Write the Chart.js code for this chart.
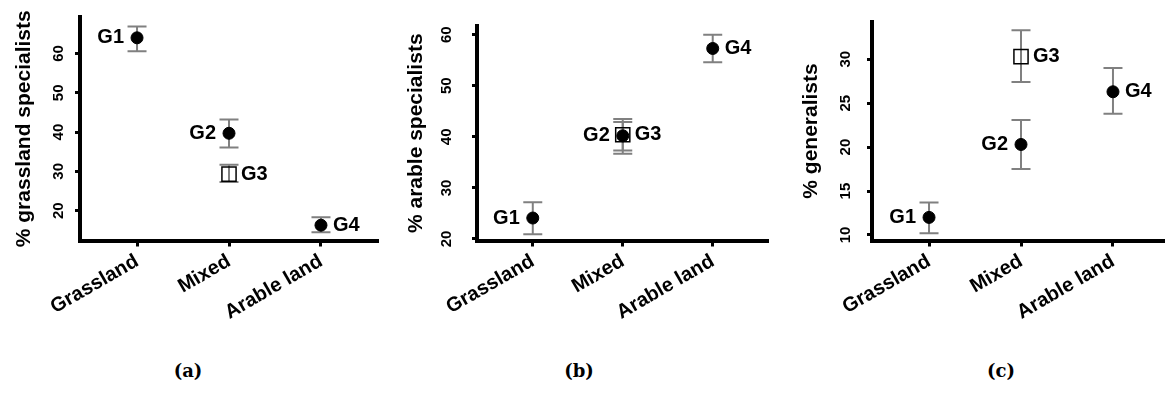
<!DOCTYPE html>
<html>
<head>
<meta charset="utf-8">
<title>Species groups by landscape</title>
<script src="https://cdn.jsdelivr.net/npm/chart.js@4.4.0/dist/chart.umd.min.js"></script>
<style>
  html, body { margin: 0; padding: 0; background: #fff; width: 1165px; height: 406px; overflow: hidden; position: relative; }
  .panel { position: absolute; top: 0; height: 330px; }
  .panel canvas { display: block; }
  .caption { position: absolute; top: 360px; font: bold 18px "DejaVu Serif", serif; color: #000; transform: translateX(-50%); }
</style>
</head>
<body>
<div class="panel" style="left:0;width:390px"><canvas id="chartA"></canvas></div>
<div class="panel" style="left:390px;width:390px"><canvas id="chartB"></canvas></div>
<div class="panel" style="left:775px;width:410px"><canvas id="chartC"></canvas></div>
<div class="caption" style="left:188px">(a)</div>
<div class="caption" style="left:579px">(b)</div>
<div class="caption" style="left:1001px">(c)</div>
<script>
const categories = ["Grassland", "Mixed", "Arable land"];
const groups = ["G1", "G2", "G3", "G4"];
const groupCategory = [0, 1, 1, 2];
const labelSide = ["left", "left", "right", "right"];

// % grassland specialists
const grassMean = [64.0, 39.7, 29.3, 16.3];
const grassLow = [60.6, 36.1, 27.3, 14.5];
const grassHigh = [66.9, 43.2, 31.7, 18.3];
const grassTicks = [20, 30, 40, 50, 60];
const grassRange = [12.4, 69.3];

// % arable specialists
const arableMean = [24.1, 40.2, 40.4, 57.3];
const arableLow = [20.9, 36.7, 37.3, 54.6];
const arableHigh = [27.2, 43.5, 42.9, 60.0];
const arableTicks = [20, 30, 40, 50, 60];
const arableRange = [19.7, 61.7];

// % generalists
const generalMean = [12.0, 20.3, 30.3, 26.3];
const generalLow = [10.2, 17.5, 27.4, 23.8];
const generalHigh = [13.7, 23.1, 33.3, 29.0];
const generalTicks = [10, 15, 20, 25, 30];
const generalRange = [9.37, 34.3];

const xRange = [-0.62, 2.62];
const FONT = "'Liberation Sans', Arial, sans-serif";

function makeChart(canvasId, title, means, lows, highs, yTicks, yRange, layout) {
  const errorBars = {
    id: "errorBars",
    beforeDatasetsDraw(chart) {
      const { ctx, scales: { x, y } } = chart;
      ctx.save();
      ctx.strokeStyle = "#808080";
      ctx.lineWidth = 2;
      means.forEach((m, i) => {
        const px = x.getPixelForValue(groupCategory[i]);
        const top = y.getPixelForValue(highs[i]);
        const bot = y.getPixelForValue(lows[i]);
        ctx.beginPath();
        ctx.moveTo(px, top); ctx.lineTo(px, bot);
        ctx.moveTo(px - 9.5, top); ctx.lineTo(px + 9.5, top);
        ctx.moveTo(px - 9.5, bot); ctx.lineTo(px + 9.5, bot);
        ctx.stroke();
      });
      ctx.restore();
    }
  };

  const groupLabels = {
    id: "groupLabels",
    afterDatasetsDraw(chart) {
      const { ctx, scales: { x, y } } = chart;
      ctx.save();
      ctx.fillStyle = "#000";
      ctx.font = "bold 20px " + FONT;
      ctx.textBaseline = "middle";
      means.forEach((m, i) => {
        const px = x.getPixelForValue(groupCategory[i]);
        const py = y.getPixelForValue(m);
        if (labelSide[i] === "left") {
          ctx.textAlign = "right";
          ctx.fillText(groups[i], px - 13, py);
        } else {
          ctx.textAlign = "left";
          ctx.fillText(groups[i], px + 12, py);
        }
      });
      ctx.restore();
    }
  };

  return new Chart(document.getElementById(canvasId), {
    type: "scatter",
    data: {
      datasets: [{
        data: means.map((m, i) => ({ x: groupCategory[i], y: m })),
        pointStyle: ["circle", "circle", "rect", "circle"],
        pointRadius: [6, 6, 10, 6],
        pointHoverRadius: [6, 6, 10, 6],
        backgroundColor: ["#000", "#000", "rgba(0,0,0,0)", "#000"],
        borderColor: "#000",
        borderWidth: [1, 1, 1.5, 1]
      }]
    },
    options: {
      responsive: true,
      maintainAspectRatio: false,
      animation: false,
      layout: { padding: { left: 0, right: layout.padRight, top: 15.5, bottom: 0 } },
      plugins: { legend: { display: false }, tooltip: { enabled: false } },
      scales: {
        x: {
          type: "linear",
          min: xRange[0],
          max: xRange[1],
          afterBuildTicks: (s) => { s.ticks = categories.map((c, i) => ({ value: i })); },
          afterFit: (s) => { s.height = 89.5; },
          border: { display: true, color: "#000", width: 4 },
          grid: { display: true, drawOnChartArea: false, drawTicks: true, tickLength: 6, tickWidth: 3, tickColor: "#000" },
          ticks: {
            autoSkip: false,
            minRotation: 30,
            maxRotation: 30,
            padding: 3,
            color: "#000",
            font: { family: FONT, size: 20, weight: "bold" },
            callback: (v) => categories[v]
          }
        },
        y: {
          min: yRange[0],
          max: yRange[1],
          afterBuildTicks: (s) => { s.ticks = yTicks.map((v) => ({ value: v })); },
          afterFit: (s) => { s.width = layout.yWidth; },
          border: { display: true, color: "#000", width: 4 },
          grid: { display: true, drawOnChartArea: false, drawTicks: true, tickLength: 5, tickWidth: 3, tickColor: "#000" },
          ticks: {
            minRotation: 90,
            maxRotation: 90,
            crossAlign: "center",
            padding: layout.tickPad,
            color: "#000",
            font: { family: FONT, size: 15, weight: "bold" }
          },
          title: {
            display: true,
            text: title,
            color: "#000",
            padding: { top: layout.titlePad, bottom: 0 },
            font: { family: FONT, size: 21, weight: "bold" }
          }
        }
      }
    },
    plugins: [errorBars, groupLabels]
  });
}

makeChart("chartA", "% grassland specialists", grassMean, grassLow, grassHigh, grassTicks, grassRange,
  { yWidth: 80, padRight: 12, tickPad: 8, titlePad: 12 });
makeChart("chartB", "% arable specialists", arableMean, arableLow, arableHigh, arableTicks, arableRange,
  { yWidth: 87, padRight: 5, tickPad: 17, titlePad: 14 });
makeChart("chartC", "% generalists", generalMean, generalLow, generalHigh, generalTicks, generalRange,
  { yWidth: 97, padRight: 15, tickPad: 12.5, titlePad: 24 });
</script>
</body>
</html>
